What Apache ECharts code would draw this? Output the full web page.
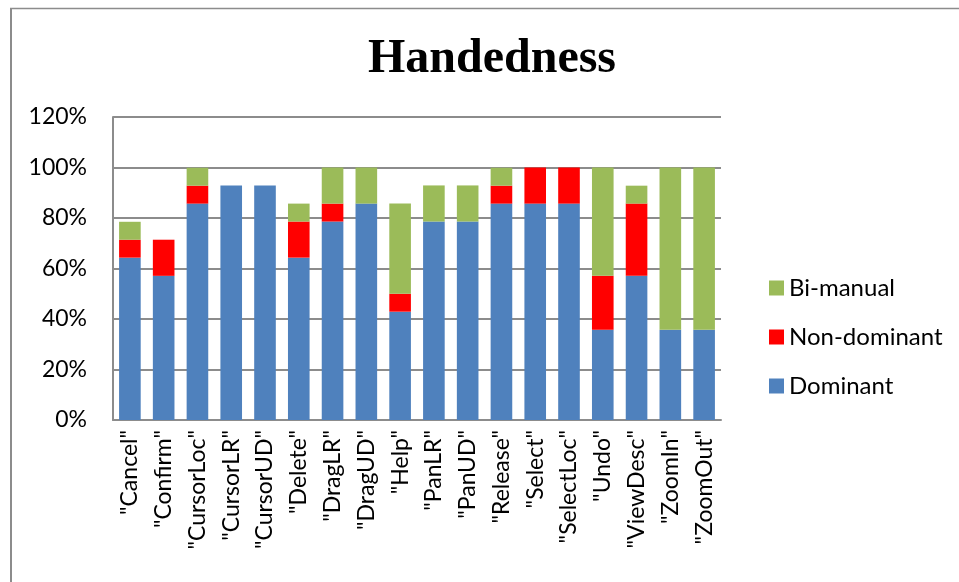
<!DOCTYPE html>
<html>
<head>
<meta charset="utf-8">
<script src="https://cdn.jsdelivr.net/npm/echarts@6/dist/echarts.min.js"></script>
<style>
  html, body { margin: 0; padding: 0; background: #fff; }
  #chart { width: 959px; height: 582px; }
</style>
</head>
<body>
<div id="chart"></div>
<script>
// Share of gestures performed with each hand, per command (%)
const categories = ['"Cancel"', '"Confirm"', '"CursorLoc"', '"CursorLR"', '"CursorUD"', '"Delete"',
  '"DragLR"', '"DragUD"', '"Help"', '"PanLR"', '"PanUD"', '"Release"', '"Select"', '"SelectLoc"',
  '"Undo"', '"ViewDesc"', '"ZoomIn"', '"ZoomOut"'];
const dominant    = [64.3, 57.1, 85.7, 92.9, 92.9, 64.3, 78.6, 85.7, 42.9, 78.6, 78.6, 85.7, 85.7, 85.7, 35.7, 57.1, 35.7, 35.7];
const nonDominant = [7.1, 14.3, 7.1, 0, 0, 14.3, 7.1, 0, 7.1, 0, 0, 7.1, 14.3, 14.3, 21.4, 28.6, 0, 0];
const biManual    = [7.1, 0, 7.1, 0, 0, 7.1, 14.3, 14.3, 35.7, 14.3, 14.3, 7.1, 0, 0, 42.9, 7.1, 64.3, 64.3];
const yTicks = [0, 20, 40, 60, 80, 100, 120];

const labelFont = 'Lato, "Open Sans", sans-serif';
const chart = echarts.init(document.getElementById('chart'), null, { renderer: 'canvas' });

chart.setOption({
  animation: false,
  backgroundColor: '#fff',
  title: {
    text: 'Handedness',
    left: 487, top: 31, textAlign: 'center',
    textStyle: { fontFamily: '"Liberation Serif", "Times New Roman", serif', fontWeight: 'bold', fontSize: 48, color: '#000' }
  },
  graphic: [
    { type: 'line', shape: { x1: 11, y1: 8, x2: 11, y2: 582 }, style: { stroke: '#8c8c8c', lineWidth: 2 } },
    { type: 'line', shape: { x1: 10, y1: 8.5, x2: 959, y2: 8.5 }, style: { stroke: '#8c8c8c', lineWidth: 1.5 } }
  ],
  legend: {
    orient: 'vertical',
    left: 764, top: 271,
    itemWidth: 15, itemHeight: 15, itemGap: 25,
    icon: 'rect',
    data: ['Bi-manual', 'Non-dominant', 'Dominant'],
    textStyle: { fontFamily: labelFont, fontSize: 24, color: '#000' }
  },
  grid: { left: 113, right: 959 - 721, top: 117, bottom: 582 - 420, containLabel: false },
  xAxis: {
    type: 'category',
    data: categories,
    axisLine: { lineStyle: { color: '#8c8c8c', width: 2 } },
    axisTick: { show: false },
    axisLabel: {
      rotate: 90, interval: 0, margin: 10,
      fontFamily: labelFont, fontSize: 23, color: '#000'
    }
  },
  yAxis: {
    type: 'value',
    min: 0, max: 120, interval: 20,
    axisLine: { show: true, lineStyle: { color: '#8c8c8c', width: 2 } },
    axisTick: { show: false },
    splitLine: { lineStyle: { color: '#8c8c8c', width: 2 } },
    axisLabel: {
      margin: 26, fontFamily: labelFont, fontSize: 23, color: '#000',
      formatter: v => yTicks.includes(v) ? v + '%' : ''
    }
  },
  series: [
    { name: 'Dominant', type: 'bar', stack: 'hand', data: dominant, barWidth: '64%',
      itemStyle: { color: '#4f81bd' } },
    { name: 'Non-dominant', type: 'bar', stack: 'hand', data: nonDominant,
      itemStyle: { color: '#ff0000' } },
    { name: 'Bi-manual', type: 'bar', stack: 'hand', data: biManual,
      itemStyle: { color: '#9bbb59' } }
  ]
});
</script>
</body>
</html>
